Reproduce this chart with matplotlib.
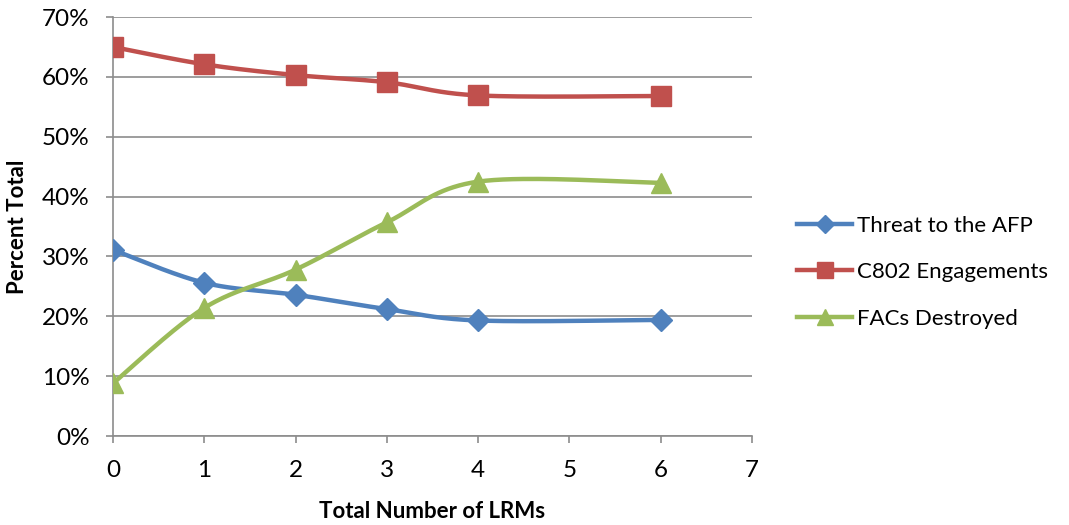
import matplotlib.pyplot as plt
import numpy as np

# numero di LRM e percentuali per ogni serie
n_lrm = [0, 1, 2, 3, 4, 6]
threat_afp = [31.1, 25.6, 23.6, 21.2, 19.3, 19.4]
c802_eng = [65.0, 62.1, 60.3, 59.1, 56.9, 56.8]
facs_destroyed = [8.8, 21.4, 27.8, 35.7, 42.5, 42.3]

labels = ['Threat to the AFP', 'C802 Engagements', 'FACs Destroyed']
colours = ['#4F81BD', '#C0504D', '#9BBB59']
markers = ['D', 's', '^']
msizes = [11, 14, 14]

plt.rcParams['font.family'] = ['Lato', 'DejaVu Sans']


def smooth(x, y, n=40):
    # curva tipo Excel: Bezier cubiche con punti di controllo a 1/6
    x = np.asarray(x, float)
    y = np.asarray(y, float)
    px = np.concatenate([[x[0]], x, [x[-1]]])
    py = np.concatenate([[y[0]], y, [y[-1]]])
    xs, ys = [], []
    t = np.linspace(0, 1, n)
    for i in range(1, len(x)):
        p0 = np.array([px[i], py[i]])
        p3 = np.array([px[i + 1], py[i + 1]])
        c1 = p0 + (p3 - np.array([px[i - 1], py[i - 1]])) / 6
        c2 = p3 - (np.array([px[i + 2], py[i + 2]]) - p0) / 6
        b = ((1 - t) ** 3)[:, None] * p0 + (3 * (1 - t) ** 2 * t)[:, None] * c1 \
            + (3 * (1 - t) * t ** 2)[:, None] * c2 + (t ** 3)[:, None] * p3
        xs.extend(b[:, 0])
        ys.extend(b[:, 1])
    return xs, ys


fig = plt.figure(figsize=(10.69, 5.25), dpi=100)
ax = fig.add_axes([0.1057, 0.1695, 0.5978, 0.7981])

for serie, col, mk, ms, lab in zip([threat_afp, c802_eng, facs_destroyed], colours, markers, msizes, labels):
    sx, sy = smooth(n_lrm, serie)
    ax.plot(sx, sy, color=col, lw=3.2, solid_capstyle='round', zorder=3)
    ax.plot(n_lrm, serie, ls='none', marker=mk, ms=ms, color=col, zorder=4)
    ax.plot([], [], color=col, lw=3.2, marker=mk, ms=ms * 0.85, label=lab)

ax.set_xlim(0, 7)
ax.set_ylim(0, 70)
ax.set_xticks(range(0, 8))
ax.set_yticks(range(0, 71, 10))
ax.set_yticklabels([f'{v}%' for v in range(0, 71, 10)])
ax.yaxis.grid(True, color='#8c8c8c', lw=1.2)
ax.set_axisbelow(True)
for s in ['top', 'right']:
    ax.spines[s].set_visible(False)
for s in ['left', 'bottom']:
    ax.spines[s].set_color('#8c8c8c')
    ax.spines[s].set_linewidth(1.2)
ax.tick_params(axis='both', colors='#8c8c8c', length=5, width=1.2, labelsize=17.5, labelcolor='black')
ax.tick_params(axis='x', pad=12)
ax.tick_params(axis='y', pad=12)
ax.set_xlabel('Total Number of LRMs', fontsize=16, fontweight='bold', va='center')
ax.set_ylabel('Percent Total', fontsize=16, fontweight='bold', va='center')
ax.xaxis.set_label_coords(0.5, -0.181)
ax.yaxis.set_label_coords(-0.149, 0.5)

ax.legend(loc='center left', bbox_to_anchor=(1.07, 0.391), frameon=False, fontsize=16,
          borderpad=0, borderaxespad=0,
          handlelength=2.5, handletextpad=0.2, labelspacing=1.2)

plt.savefig('out.png', dpi=100)
